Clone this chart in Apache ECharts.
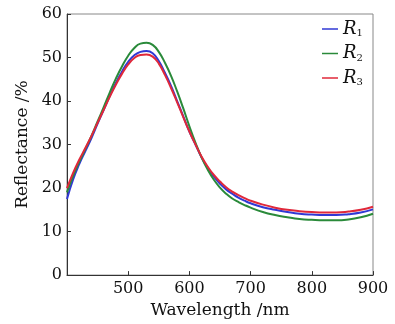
<!DOCTYPE html>
<html><head><meta charset="utf-8">
<script src="https://cdn.jsdelivr.net/npm/echarts@6/dist/echarts.min.js"></script>
<style>html,body{margin:0;padding:0;background:#fff}#c{width:395px;height:324px}</style>
</head><body><div id="c"></div>
<script>
const wavelengths = [400,410,420,430,440,450,460,470,480,490,500,510,520,530,540,550,560,570,580,590,600,610,620,630,640,650,660,670,680,690,700,720,740,760,780,800,820,840,860,880,900];
const r1 = [17.5,22,25.5,28.5,31.5,34.8,38,41.2,44.2,46.8,49,50.5,51.3,51.5,51,49.2,46.5,43.5,40,36.5,33,30,27,24.6,22.6,21,19.7,18.7,17.8,17.1,16.5,15.6,15,14.5,14.1,13.9,13.8,13.8,14,14.4,15.1];
const r2 = [19,22.8,26,29,32,35.3,38.6,42,45.2,48,50.4,52.2,53.2,53.4,52.9,51.3,48.8,45.8,42.2,38.3,34.2,30.4,27,24.2,21.9,20.1,18.7,17.6,16.8,16.1,15.5,14.5,13.8,13.3,12.9,12.7,12.6,12.6,12.8,13.3,14.1];
const r3 = [20,23.5,26.5,29.2,32,35,38,41,43.8,46.3,48.4,49.9,50.6,50.7,50.2,48.6,46,43,39.7,36.3,33,30,27.2,24.9,23,21.5,20.2,19.2,18.4,17.7,17.1,16.2,15.5,15,14.7,14.5,14.4,14.4,14.6,15,15.7];
const seriesNames = ['R1','R2','R3'];
const colors = ['#3038d4','#2a8a3a','#e0283a'];
const xTicks = {min:400,max:900,interval:100};
const yTicks = {min:0,max:60,interval:10};

const font = 'DejaVu Serif';
const chart = echarts.init(document.getElementById('c'));
const mk = (name, vals, i) => ({
  name, type:'line', smooth:true, symbol:'none',
  data: wavelengths.map((w,k)=>[w, vals[k]]),
  lineStyle:{color:colors[i], width:2}, itemStyle:{color:colors[i]}
});
chart.setOption({
  animation:false,
  grid:{left:67,right:22,top:14,bottom:45,show:true,borderColor:'#888',borderWidth:1},
  legend:{
    orient:'vertical', left:317, top:15, itemWidth:16, itemHeight:1.5, itemGap:6,
    icon:'rect',
    data:seriesNames,
    formatter: n => '{i|R}{s|' + n.slice(1) + '}',
    textStyle:{rich:{
      i:{fontFamily:font, fontStyle:'italic', fontSize:18, color:'#111', lineHeight:17},
      s:{fontFamily:font, fontSize:10, color:'#111', verticalAlign:'bottom', padding:[9,0,0,0]}
    }}
  },
  xAxis:{
    type:'value', min:xTicks.min, max:xTicks.max, interval:xTicks.interval,
    name:'Wavelength /nm', nameLocation:'middle', nameGap:20,
    nameTextStyle:{fontFamily:font, fontSize:17, color:'#111'},
    axisLine:{lineStyle:{color:'#333'}},
    axisTick:{inside:true, length:4, lineStyle:{color:'#333'}},
    axisLabel:{fontFamily:font, fontSize:16, color:'#111', margin:6,
      formatter: v => v === xTicks.min ? '' : String(v)},
    splitLine:{show:false}
  },
  yAxis:{
    type:'value', min:yTicks.min, max:yTicks.max, interval:yTicks.interval,
    name:'Reflectance /%', nameLocation:'middle', nameGap:33,
    nameTextStyle:{fontFamily:font, fontSize:17, color:'#111'},
    axisLine:{show:true, lineStyle:{color:'#333'}},
    axisTick:{show:true, inside:true, length:4, lineStyle:{color:'#333'}},
    axisLabel:{fontFamily:font, fontSize:16, color:'#111', margin:5},
    splitLine:{show:false}
  },
  series:[mk('R1', r1, 0), mk('R2', r2, 1), mk('R3', r3, 2)]
});
</script></body></html>
